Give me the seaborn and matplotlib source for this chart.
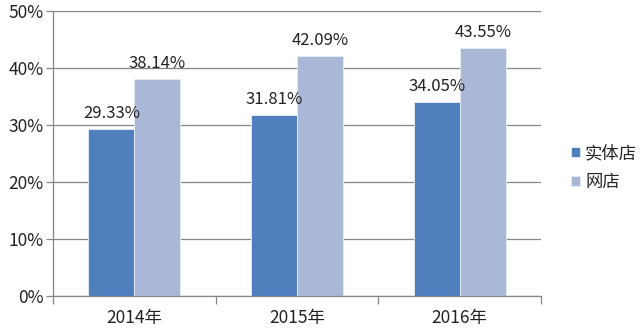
import matplotlib
matplotlib.use("Agg")
import matplotlib.pyplot as plt
import seaborn as sns
import pandas as pd
from matplotlib.ticker import FixedLocator

years = ["2014年", "2015年", "2016年"]
series = ["实体店", "网店"]
physical = [29.33, 31.81, 34.05]
online = [38.14, 42.09, 43.55]
yticks = [0, 10, 20, 30, 40, 50]

df = pd.DataFrame({
    "year": years * 2,
    "type": [series[0]] * 3 + [series[1]] * 3,
    "value": physical + online,
})

sns.set_theme(style="white")
plt.rcParams['font.family'] = ['Noto Sans CJK SC', 'DejaVu Sans']

fig = plt.figure(figsize=(6.41, 3.36), dpi=100)
ax = fig.add_axes([53/641, 40/336, 488/641, 285/336])

palette = {"实体店": "#4F7FBD", "网店": "#AAB8D8"}
sns.barplot(data=df, x="year", y="value", hue="type", palette=palette,
            width=0.565, ax=ax, saturation=1, edgecolor="#E8EEF8", linewidth=0.6)

for cont in ax.containers:
    ax.bar_label(cont, labels=[f"{v:.2f}%" for v in cont.datavalues],
                 padding=5, fontsize=12, color="#222222")

ax.set_ylim(0, 50)
ax.set_xlim(-0.5, 2.5)
ax.set_yticks(yticks)
ax.set_yticklabels([f"{t}%" for t in yticks], fontsize=12.5, color="#222222")
ax.yaxis.grid(True, color="#868686", linewidth=0.9)
ax.set_axisbelow(True)
ax.set_xlabel("")
ax.set_ylabel("")
ax.tick_params(axis="x", which="major", length=0, labelsize=12.5, pad=9, labelcolor="#222222")
ax.xaxis.set_minor_locator(FixedLocator([-0.5, 0.5, 1.5, 2.5]))
ax.tick_params(axis="x", which="minor", length=6, color="#868686", width=0.9, bottom=True)
ax.tick_params(axis="y", length=5, color="#868686", width=0.9, left=True, pad=2)

for s in ["top", "right"]:
    ax.spines[s].set_visible(False)
for s in ["left", "bottom"]:
    ax.spines[s].set_color("#868686")
    ax.spines[s].set_linewidth(0.9)

ax.legend(title=None, frameon=False, loc="center left", bbox_to_anchor=(1.037, 0.45),
          fontsize=12.5, handlelength=0.5, handleheight=0.5, handletextpad=0.3,
          labelspacing=0.6, borderaxespad=0.3)

fig.savefig("out.png", dpi=100, facecolor="white")
